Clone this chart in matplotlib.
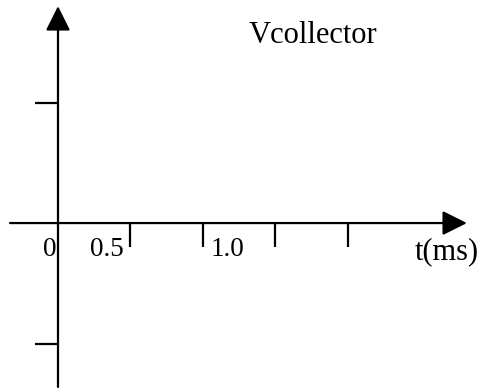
import matplotlib
matplotlib.use('Agg')
import matplotlib.pyplot as plt

# time axis (ms) and the two marks on the vertical axis
t_ticks = [0.5, 1.0, 1.5, 2.0]
v_ticks = [1.0, -1.0]
t_labels = ['0', '0.5', '1.0']
t_label_pos = [-0.06, 0.34, 1.17]
axis_title = 't(ms)'
signal_name = 'Vcollector'

plt.rcParams['font.family'] = ['Liberation Serif', 'DejaVu Serif']

fig = plt.figure(figsize=(4.84, 3.92), dpi=100)
ax = fig.add_axes([0, 0, 1, 1])
ax.set_xlim(-0.4, 2.938)
ax.set_ylim(-1.402, 1.851)
ax.axis('off')

arrow = dict(arrowstyle='-|>,head_length=1.0,head_width=0.5', mutation_scale=15,
             lw=1.6, color='black', shrinkA=0, shrinkB=0)

# horizontal (time) axis
ax.annotate('', xy=(2.82, 0), xytext=(-0.331, 0), arrowprops=arrow)
# vertical axis
ax.annotate('', xy=(0, 1.80), xytext=(0, -1.36), arrowprops=arrow)

# ticks
for t in t_ticks:
    ax.plot([t, t], [0, -0.2], color='black', lw=1.6, solid_capstyle='butt')
for v in v_ticks:
    ax.plot([-0.16, 0], [v, v], color='black', lw=1.6, solid_capstyle='butt')

for lab, x in zip(t_labels, t_label_pos):
    ax.text(x, -0.216, lab, fontsize=19.5, ha='center', va='center')

ax.text(2.68, -0.24, axis_title, fontsize=22, ha='center', va='center')
ax.text(1.76, 1.56, signal_name, fontsize=22, ha='center', va='center')

fig.savefig('out.png', dpi=100)
